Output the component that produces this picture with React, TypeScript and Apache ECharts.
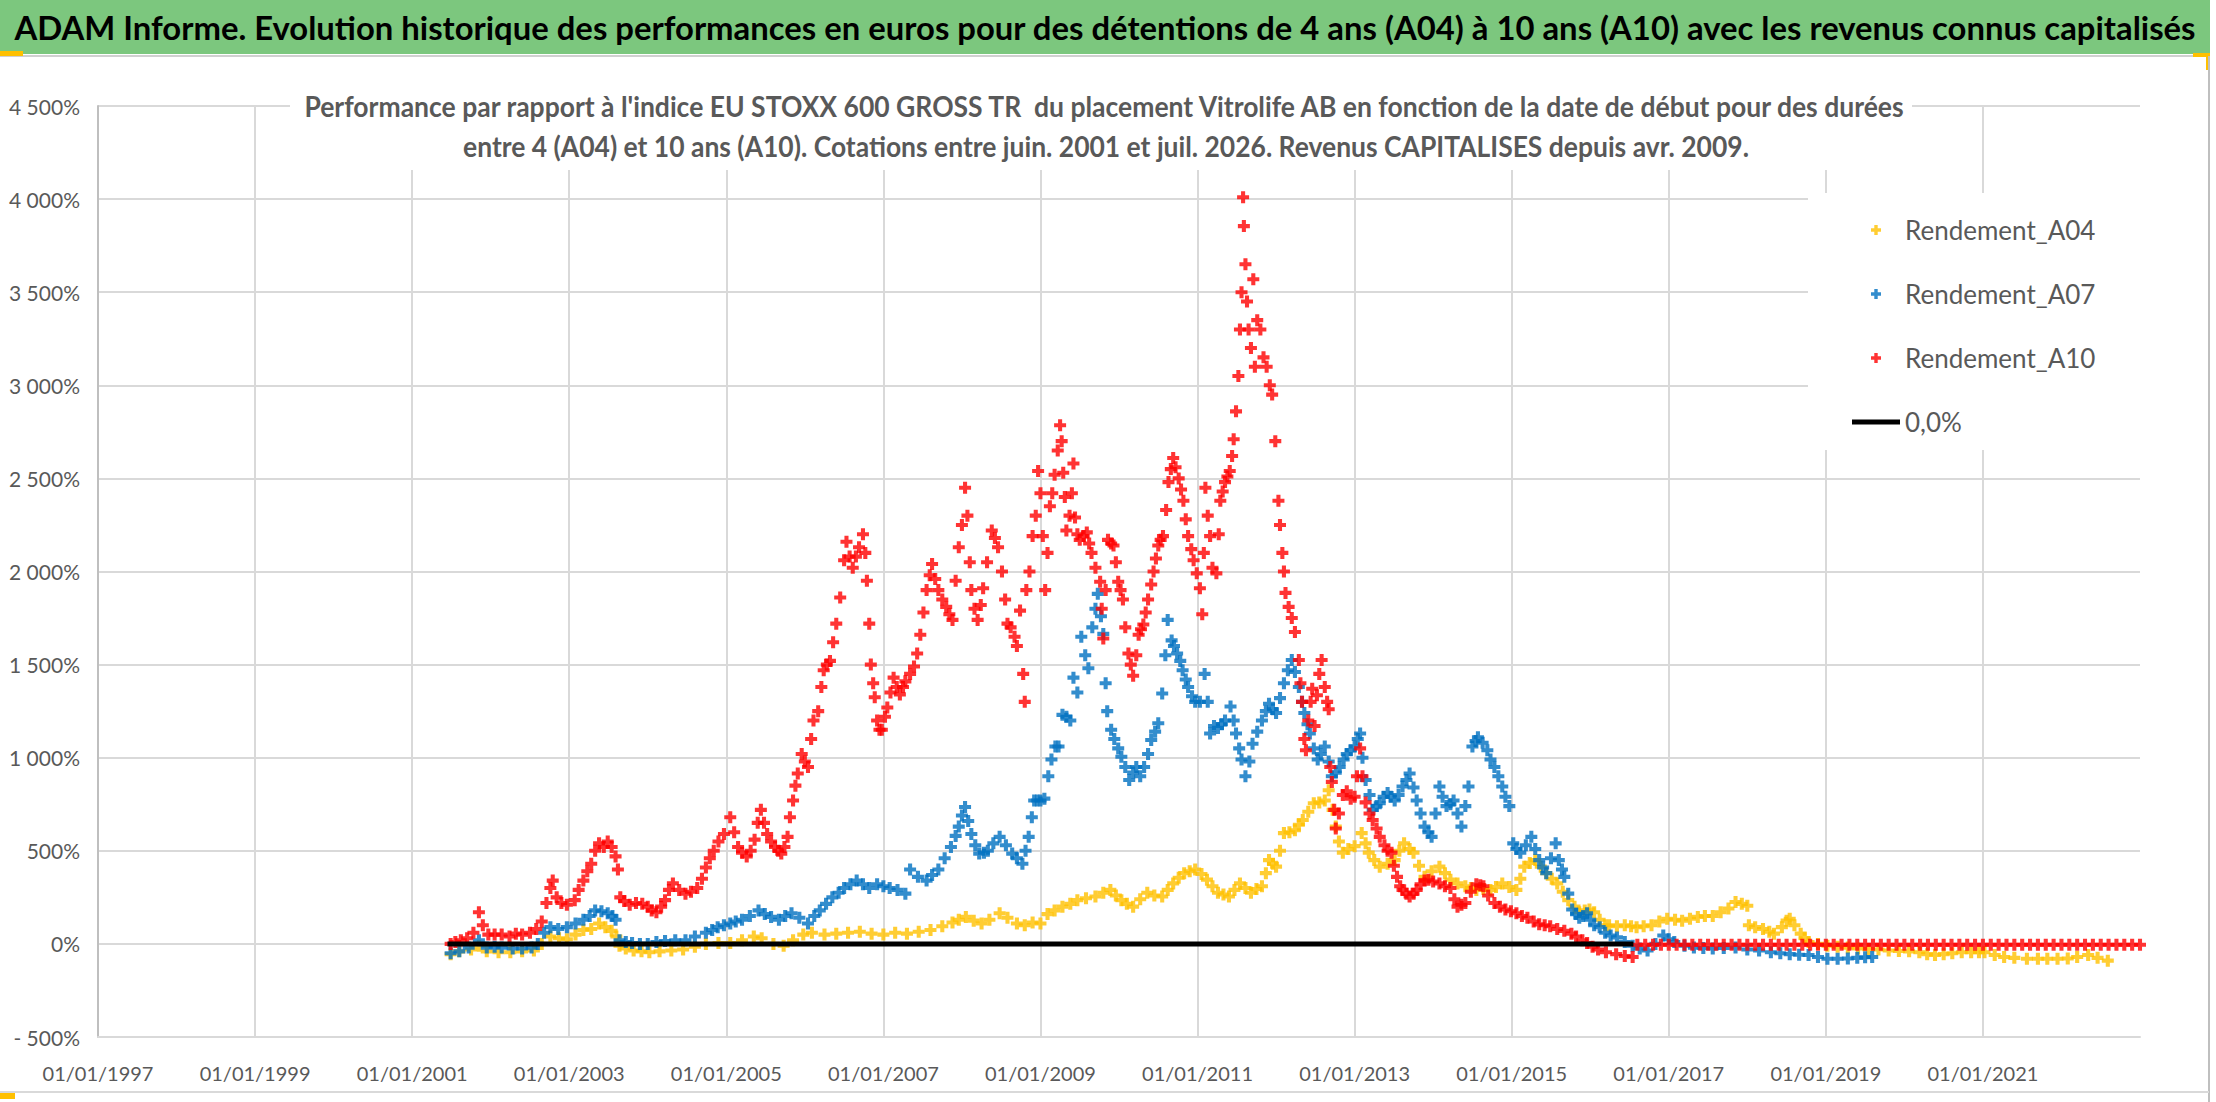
import { useEffect, useRef } from "react";
import * as echarts from "echarts";

// start date (decimal year), performance vs index (%)
const a04Points: [number, number][] = [
  [2001.49, -55], [2001.6, -40], [2001.75, -30], [2001.85, -10], [2001.95, -40], [2002.1, -45], [2002.25, -45],
  [2002.4, -40], [2002.55, -35], [2002.65, 0], [2002.76, 40], [2002.87, 30], [2002.97, 25], [2003.08, 50],
  [2003.18, 75], [2003.28, 80], [2003.38, 110], [2003.46, 90], [2003.54, 70], [2003.6, 40], [2003.64, -10],
  [2003.72, -25], [2003.82, -35], [2003.92, -40], [2004.02, -45], [2004.15, -40], [2004.3, -35], [2004.45, -30],
  [2004.6, -15], [2004.74, 0], [2004.9, 5], [2005.05, 5], [2005.2, 20], [2005.35, 40], [2005.45, 30],
  [2005.6, 0], [2005.73, -10], [2005.85, 20], [2005.98, 50], [2006.09, 60], [2006.25, 50], [2006.4, 55],
  [2006.55, 60], [2006.7, 65], [2006.85, 55], [2007.0, 50], [2007.15, 60], [2007.3, 55], [2007.45, 65],
  [2007.6, 75], [2007.75, 95], [2007.88, 115], [2007.96, 130], [2008.05, 145], [2008.15, 125], [2008.25, 110],
  [2008.35, 130], [2008.48, 165], [2008.58, 140], [2008.7, 110], [2008.8, 100], [2008.9, 115], [2009.0, 110],
  [2009.09, 160], [2009.18, 180], [2009.28, 200], [2009.38, 215], [2009.47, 235], [2009.58, 245], [2009.7, 255],
  [2009.8, 275], [2009.89, 290], [2009.96, 260], [2010.03, 235], [2010.1, 215], [2010.18, 200], [2010.27, 240],
  [2010.36, 275], [2010.45, 260], [2010.55, 255], [2010.62, 290], [2010.69, 325], [2010.76, 355], [2010.83, 380],
  [2010.9, 390], [2010.97, 400], [2011.05, 375], [2011.12, 345], [2011.19, 310], [2011.26, 275], [2011.33, 265],
  [2011.4, 255], [2011.47, 290], [2011.54, 325], [2011.61, 300], [2011.68, 275], [2011.75, 295], [2011.82, 310],
  [2011.87, 380], [2011.91, 450], [2011.96, 430], [2012.0, 415], [2012.05, 500], [2012.1, 595], [2012.17, 600],
  [2012.24, 610], [2012.29, 640], [2012.34, 665], [2012.41, 710], [2012.48, 755], [2012.55, 760], [2012.62, 770],
  [2012.67, 825], [2012.72, 720], [2012.76, 630], [2012.8, 550], [2012.85, 490], [2012.92, 510], [2013.0, 525],
  [2013.09, 595], [2013.14, 540], [2013.18, 490], [2013.25, 450], [2013.32, 415], [2013.42, 430], [2013.51, 450],
  [2013.57, 500], [2013.63, 540], [2013.7, 510], [2013.75, 490], [2013.82, 420], [2013.89, 360], [2013.98, 390],
  [2014.08, 415], [2014.15, 380], [2014.22, 345], [2014.31, 325], [2014.41, 310], [2014.48, 300], [2014.55, 290],
  [2014.64, 295], [2014.73, 290], [2014.8, 305], [2014.88, 325], [2014.97, 305], [2015.06, 290], [2015.11, 350],
  [2015.16, 415], [2015.23, 435], [2015.3, 450], [2015.37, 415], [2015.44, 380], [2015.51, 350], [2015.58, 325],
  [2015.65, 280], [2015.72, 235], [2015.8, 200], [2015.86, 170], [2015.93, 180], [2015.99, 185], [2016.05, 170],
  [2016.12, 130], [2016.19, 100], [2016.24, 100], [2016.34, 95], [2016.44, 100], [2016.52, 95], [2016.59, 90],
  [2016.68, 95], [2016.78, 100], [2016.88, 120], [2016.98, 135], [2017.08, 130], [2017.17, 125], [2017.27, 135],
  [2017.37, 145], [2017.46, 150], [2017.56, 150], [2017.66, 170], [2017.76, 190], [2017.85, 225], [2017.93, 215],
  [2018.0, 205], [2018.02, 100], [2018.1, 90], [2018.2, 80], [2018.28, 65], [2018.34, 55], [2018.44, 90],
  [2018.5, 125], [2018.54, 135], [2018.6, 100], [2018.68, 55], [2018.73, 30], [2018.78, 10], [2018.9, 0],
  [2019.02, -10], [2019.15, -15], [2019.28, -20], [2019.41, -25], [2019.54, -28], [2019.67, -30], [2019.8, -35],
  [2019.93, -38], [2020.06, -40], [2020.19, -45], [2020.29, -55], [2020.39, -60], [2020.5, -55], [2020.61, -50],
  [2020.73, -45], [2020.85, -45], [2020.95, -45], [2021.02, -45], [2021.15, -60], [2021.27, -70], [2021.4, -75],
  [2021.56, -80], [2021.7, -80], [2021.82, -80], [2021.95, -80], [2022.08, -78], [2022.2, -70], [2022.34, -60],
  [2022.46, -75], [2022.59, -90],
];

const a07Points: [number, number][] = [
  [2001.49, -50], [2001.6, -40], [2001.72, -20], [2001.85, 20], [2001.95, -20], [2002.05, -15], [2002.14, -20],
  [2002.28, -25], [2002.4, -25], [2002.52, -20], [2002.6, 0], [2002.68, 60], [2002.76, 90], [2002.86, 80],
  [2002.97, 90], [2003.08, 110], [2003.18, 130], [2003.26, 150], [2003.33, 180], [2003.41, 175], [2003.49, 165],
  [2003.55, 150], [2003.59, 130], [2003.64, 20], [2003.72, 10], [2003.8, 5], [2003.9, 0], [2004.0, 0],
  [2004.11, 10], [2004.22, 15], [2004.35, 20], [2004.48, 20], [2004.6, 40], [2004.74, 60], [2004.82, 75],
  [2004.89, 90], [2004.97, 100], [2005.05, 110], [2005.12, 120], [2005.2, 130], [2005.3, 150], [2005.41, 180],
  [2005.49, 160], [2005.57, 145], [2005.67, 130], [2005.75, 150], [2005.83, 165], [2005.93, 140], [2006.04, 110],
  [2006.12, 150], [2006.19, 180], [2006.27, 215], [2006.35, 250], [2006.43, 275], [2006.5, 300], [2006.58, 320],
  [2006.66, 340], [2006.74, 320], [2006.82, 300], [2006.92, 320], [2007.0, 310], [2007.08, 300], [2007.18, 290],
  [2007.28, 270], [2007.34, 400], [2007.44, 360], [2007.55, 340], [2007.62, 370], [2007.7, 400], [2007.78, 460],
  [2007.86, 520], [2007.92, 580], [2007.96, 630], [2008.0, 690], [2008.04, 735], [2008.08, 660], [2008.12, 590],
  [2008.17, 530], [2008.22, 485], [2008.28, 490], [2008.33, 500], [2008.4, 540], [2008.48, 575], [2008.56, 530],
  [2008.64, 485], [2008.7, 460], [2008.77, 430], [2008.81, 500], [2008.85, 575], [2008.89, 680], [2008.92, 770],
  [2008.96, 770], [2009.0, 770], [2009.05, 780], [2009.1, 900], [2009.14, 990], [2009.19, 1060], [2009.23, 1060],
  [2009.28, 1230], [2009.33, 1220], [2009.38, 1200], [2009.42, 1430], [2009.47, 1350], [2009.52, 1650],
  [2009.57, 1550], [2009.61, 1480], [2009.66, 1700], [2009.7, 1800], [2009.73, 1880], [2009.77, 1760],
  [2009.8, 1665], [2009.83, 1400], [2009.85, 1250], [2009.9, 1150], [2009.94, 1100], [2009.99, 1050],
  [2010.03, 1005], [2010.08, 950], [2010.13, 880], [2010.18, 920], [2010.22, 950], [2010.27, 900], [2010.32, 950],
  [2010.37, 1020], [2010.41, 1095], [2010.46, 1140], [2010.5, 1185], [2010.55, 1345], [2010.59, 1550],
  [2010.62, 1740], [2010.67, 1630], [2010.7, 1600], [2010.74, 1560], [2010.78, 1520], [2010.81, 1470],
  [2010.85, 1420], [2010.88, 1380], [2010.93, 1330], [2010.97, 1300], [2011.03, 1300], [2011.09, 1450],
  [2011.13, 1300], [2011.16, 1130], [2011.21, 1170], [2011.26, 1160], [2011.31, 1180], [2011.35, 1200],
  [2011.42, 1275], [2011.46, 1200], [2011.49, 1130], [2011.53, 1050], [2011.56, 990], [2011.61, 900],
  [2011.66, 980], [2011.7, 1075], [2011.76, 1140], [2011.82, 1200], [2011.87, 1250], [2011.91, 1290],
  [2011.96, 1260], [2012.0, 1240], [2012.05, 1320], [2012.1, 1400], [2012.15, 1470], [2012.2, 1525],
  [2012.24, 1460], [2012.29, 1380], [2012.33, 1300], [2012.36, 1240], [2012.4, 1180], [2012.43, 1130],
  [2012.48, 1050], [2012.53, 990], [2012.57, 1020], [2012.62, 1060], [2012.67, 980], [2012.71, 900],
  [2012.76, 920], [2012.81, 950], [2012.86, 990], [2012.9, 1020], [2012.95, 1040], [2013.0, 1060],
  [2013.04, 1100], [2013.07, 1130], [2013.1, 1000], [2013.14, 880], [2013.19, 800], [2013.23, 720],
  [2013.28, 740], [2013.32, 755], [2013.37, 790], [2013.42, 810], [2013.46, 790], [2013.51, 770], [2013.56, 800],
  [2013.61, 845], [2013.66, 880], [2013.7, 915], [2013.75, 840], [2013.79, 770], [2013.84, 700], [2013.89, 630],
  [2013.94, 600], [2013.98, 575], [2014.03, 700], [2014.08, 845], [2014.12, 790], [2014.17, 740], [2014.22, 750],
  [2014.26, 770], [2014.31, 700], [2014.36, 630], [2014.41, 740], [2014.45, 845], [2014.5, 1060], [2014.54, 1090],
  [2014.57, 1110], [2014.63, 1080], [2014.69, 1040], [2014.73, 990], [2014.78, 950], [2014.83, 900],
  [2014.88, 845], [2014.92, 790], [2014.97, 740], [2015.02, 540], [2015.06, 510], [2015.11, 490], [2015.18, 530],
  [2015.25, 575], [2015.3, 510], [2015.35, 450], [2015.4, 410], [2015.44, 380], [2015.5, 460], [2015.56, 540],
  [2015.6, 450], [2015.64, 400], [2015.67, 360], [2015.72, 270], [2015.77, 185], [2015.82, 160], [2015.86, 140],
  [2015.91, 150], [2015.96, 165], [2016.0, 130], [2016.05, 100], [2016.12, 90], [2016.19, 60], [2016.26, 45],
  [2016.34, 35], [2016.44, 10], [2016.54, -10], [2016.63, -25], [2016.73, -35], [2016.83, 0], [2016.93, 45],
  [2017.0, 25], [2017.07, 10], [2017.2, -10], [2017.32, -20], [2017.44, -22], [2017.56, -25], [2017.7, -22],
  [2017.85, -20], [2018.0, -30], [2018.15, -35], [2018.3, -45], [2018.42, -50], [2018.54, -55], [2018.66, -58],
  [2018.78, -60], [2018.9, -70], [2019.02, -80], [2019.15, -80], [2019.28, -78], [2019.4, -75], [2019.5, -72],
  [2019.59, -70],
];

const a10Points: [number, number][] = [
  [2001.49, 0], [2001.55, 10], [2001.62, 20], [2001.7, 30], [2001.78, 60], [2001.85, 170], [2001.9, 100],
  [2001.97, 50], [2002.05, 50], [2002.14, 50], [2002.24, 40], [2002.32, 55], [2002.4, 50], [2002.5, 60],
  [2002.58, 80], [2002.65, 120], [2002.71, 220], [2002.76, 300], [2002.79, 340], [2002.84, 250], [2002.9, 220],
  [2002.97, 210], [2003.07, 235], [2003.12, 290], [2003.18, 340], [2003.23, 390], [2003.28, 430], [2003.33, 500],
  [2003.38, 540], [2003.44, 520], [2003.49, 550], [2003.54, 520], [2003.59, 470], [2003.62, 400], [2003.65, 250],
  [2003.7, 230], [2003.77, 210], [2003.85, 220], [2003.93, 215], [2004.0, 200], [2004.05, 180], [2004.11, 170],
  [2004.17, 200], [2004.22, 235], [2004.27, 290], [2004.32, 325], [2004.4, 290], [2004.48, 270], [2004.55, 280],
  [2004.63, 300], [2004.69, 350], [2004.74, 410], [2004.79, 460], [2004.84, 500], [2004.9, 550], [2004.97, 590],
  [2005.05, 680], [2005.1, 600], [2005.15, 520], [2005.2, 490], [2005.26, 470], [2005.31, 500], [2005.36, 560],
  [2005.4, 650], [2005.44, 720], [2005.48, 650], [2005.52, 590], [2005.57, 550], [2005.62, 520], [2005.66, 500],
  [2005.7, 485], [2005.74, 520], [2005.78, 575], [2005.81, 680], [2005.85, 770], [2005.88, 850], [2005.91, 915],
  [2005.96, 1020], [2006.0, 980], [2006.04, 950], [2006.08, 1100], [2006.11, 1200], [2006.17, 1250],
  [2006.21, 1380], [2006.24, 1470], [2006.28, 1500], [2006.32, 1520], [2006.36, 1620], [2006.4, 1720],
  [2006.45, 1860], [2006.5, 2060], [2006.53, 2160], [2006.57, 2080], [2006.61, 2020], [2006.65, 2080],
  [2006.69, 2130], [2006.74, 2200], [2006.77, 2100], [2006.79, 1950], [2006.82, 1720], [2006.84, 1500],
  [2006.87, 1400], [2006.89, 1325], [2006.92, 1200], [2006.95, 1150], [2006.98, 1150], [2007.02, 1220],
  [2007.05, 1270], [2007.09, 1350], [2007.13, 1430], [2007.17, 1380], [2007.21, 1340], [2007.25, 1380],
  [2007.28, 1410], [2007.34, 1450], [2007.39, 1490], [2007.43, 1560], [2007.47, 1660], [2007.51, 1780],
  [2007.55, 1900], [2007.59, 1980], [2007.62, 2040], [2007.66, 1960], [2007.7, 1900], [2007.75, 1850],
  [2007.8, 1810], [2007.84, 1770], [2007.88, 1740], [2007.92, 1950], [2007.96, 2130], [2008.0, 2250],
  [2008.04, 2450], [2008.07, 2300], [2008.1, 2050], [2008.12, 1900], [2008.16, 1800], [2008.2, 1740],
  [2008.24, 1820], [2008.27, 1910], [2008.32, 2050], [2008.38, 2220], [2008.42, 2180], [2008.46, 2130],
  [2008.51, 2000], [2008.55, 1850], [2008.58, 1720], [2008.62, 1700], [2008.67, 1650], [2008.7, 1600],
  [2008.74, 1790], [2008.78, 1450], [2008.8, 1300], [2008.82, 1900], [2008.86, 2000], [2008.9, 2190],
  [2008.94, 2300], [2008.97, 2540], [2009.0, 2420], [2009.03, 2190], [2009.06, 1900], [2009.09, 2100],
  [2009.12, 2350], [2009.15, 2420], [2009.18, 2520], [2009.22, 2650], [2009.25, 2785], [2009.27, 2700],
  [2009.29, 2530], [2009.31, 2400], [2009.33, 2220], [2009.37, 2300], [2009.4, 2420], [2009.42, 2580],
  [2009.44, 2290], [2009.47, 2200], [2009.5, 2170], [2009.55, 2190], [2009.59, 2210], [2009.62, 2150],
  [2009.65, 2100], [2009.7, 2020], [2009.76, 1945], [2009.78, 1800], [2009.8, 1640], [2009.83, 1900],
  [2009.86, 2170], [2009.9, 2150], [2009.93, 2140], [2009.96, 2050], [2009.99, 1945], [2010.02, 1900],
  [2010.05, 1850], [2010.08, 1700], [2010.12, 1560], [2010.15, 1500], [2010.18, 1440], [2010.22, 1550],
  [2010.25, 1660], [2010.28, 1690], [2010.31, 1715], [2010.34, 1780], [2010.37, 1850], [2010.41, 1930],
  [2010.44, 2000], [2010.47, 2070], [2010.5, 2140], [2010.53, 2170], [2010.56, 2190], [2010.6, 2330],
  [2010.63, 2480], [2010.66, 2550], [2010.69, 2610], [2010.72, 2560], [2010.76, 2500], [2010.79, 2440],
  [2010.82, 2380], [2010.85, 2280], [2010.88, 2190], [2010.92, 2120], [2010.95, 2060], [2010.99, 1990],
  [2011.03, 1910], [2011.06, 1770], [2011.08, 2100], [2011.1, 2450], [2011.13, 2300], [2011.16, 2190],
  [2011.19, 2020], [2011.24, 1990], [2011.27, 2200], [2011.29, 2380], [2011.32, 2430], [2011.35, 2480],
  [2011.38, 2510], [2011.41, 2540], [2011.44, 2620], [2011.46, 2710], [2011.49, 2860], [2011.52, 3050],
  [2011.54, 3300], [2011.56, 3500], [2011.58, 4010], [2011.59, 3855], [2011.61, 3650], [2011.63, 3450],
  [2011.65, 3300], [2011.68, 3200], [2011.71, 3570], [2011.73, 3100], [2011.76, 3350], [2011.8, 3300],
  [2011.84, 3150], [2011.88, 3100], [2011.92, 3000], [2011.95, 2950], [2011.99, 2700], [2012.03, 2380],
  [2012.05, 2250], [2012.08, 2100], [2012.1, 2000], [2012.12, 1885], [2012.16, 1810], [2012.2, 1750],
  [2012.24, 1675], [2012.29, 1525], [2012.31, 1400], [2012.33, 1300], [2012.36, 1100], [2012.38, 1040],
  [2012.41, 1200], [2012.44, 1300], [2012.46, 1370], [2012.49, 1170], [2012.52, 1335], [2012.55, 1450],
  [2012.58, 1525], [2012.62, 1380], [2012.65, 1300], [2012.67, 1260], [2012.69, 950], [2012.71, 870],
  [2012.74, 720], [2012.76, 620], [2012.8, 700], [2012.85, 800], [2012.9, 820], [2012.95, 780], [2013.0, 790],
  [2013.03, 900], [2013.07, 1050], [2013.1, 900], [2013.14, 760], [2013.19, 700], [2013.23, 665], [2013.28, 620],
  [2013.32, 575], [2013.38, 530], [2013.42, 500], [2013.47, 490], [2013.5, 420], [2013.54, 360], [2013.58, 310],
  [2013.61, 290], [2013.66, 270], [2013.7, 255], [2013.75, 270], [2013.79, 290], [2013.84, 320], [2013.89, 340],
  [2013.94, 345], [2014.0, 335], [2014.08, 325], [2014.15, 310], [2014.22, 300], [2014.27, 240], [2014.31, 200],
  [2014.36, 210], [2014.41, 220], [2014.48, 280], [2014.55, 320], [2014.6, 315], [2014.64, 310], [2014.7, 260],
  [2014.78, 220], [2014.85, 200], [2014.92, 185], [2014.99, 175], [2015.06, 165], [2015.13, 150], [2015.2, 140],
  [2015.28, 120], [2015.35, 105], [2015.42, 100], [2015.49, 95], [2015.58, 80], [2015.67, 70], [2015.76, 55],
  [2015.82, 40], [2015.9, 20], [2015.96, 5], [2016.03, -15], [2016.1, -30], [2016.2, -45], [2016.33, -55],
  [2016.44, -65], [2016.54, -70],
  [2016.6, -5], [2016.7, -5], [2016.8, -5], [2016.9, -5], [2017.0, -5], [2017.1, -5], [2017.2, -5], [2017.3, -5],
  [2017.4, -5], [2017.5, -5], [2017.6, -5], [2017.7, -5], [2017.8, -5], [2017.9, -5], [2018.0, -5], [2018.1, -5],
  [2018.2, -5], [2018.3, -5], [2018.4, -5], [2018.5, -5], [2018.6, -5], [2018.7, -5], [2018.8, -5], [2018.9, -5],
  [2019.0, -5], [2019.1, -5], [2019.2, -5], [2019.3, -5], [2019.4, -5], [2019.5, -5], [2019.6, -5], [2019.7, -5],
  [2019.8, -5], [2019.9, -5], [2020.0, -5], [2020.1, -5], [2020.2, -5], [2020.3, -5], [2020.4, -5], [2020.5, -5],
  [2020.6, -5], [2020.7, -5], [2020.8, -5], [2020.9, -5], [2021.0, -5], [2021.1, -5], [2021.2, -5], [2021.3, -5],
  [2021.4, -5], [2021.5, -5], [2021.6, -5], [2021.7, -5], [2021.8, -5], [2021.9, -5], [2022.0, -5], [2022.1, -5],
  [2022.2, -5], [2022.3, -5], [2022.4, -5], [2022.5, -5], [2022.6, -5], [2022.7, -5], [2022.8, -5], [2022.9, -5],
  [2023.0, -5],
];

const zeroLine: [number, number][] = [[2001.45, 0], [2016.55, 0]];

const seriesNames = ["Rendement_A04", "Rendement_A07", "Rendement_A10", "0,0%"];
const seriesColors = ["#ffc000", "#0070c0", "#ff0000", "#000000"];

const X0 = 1997; // first tick: 01/01/1997
const xSpan = 26; // up to 01/01/2023
const yMin = -500;
const yMax = 4500;

const TITLE =
  "ADAM Informe. Evolution historique des performances en euros pour des détentions de 4 ans (A04) à 10 ans (A10) avec les revenus connus capitalisés";
const SUB1 =
  "Performance par rapport à l'indice EU STOXX 600 GROSS TR  du placement Vitrolife AB en fonction de la date de début pour des durées";
const SUB2 =
  "entre 4 (A04) et 10 ans (A10). Cotations entre juin. 2001 et juil. 2026. Revenus CAPITALISES depuis avr. 2009.";

const PLUS = "path://M3.3,0H6.7V3.3H10V6.7H6.7V10H3.3V6.7H0V3.3H3.3Z";

function fitScale(text: string, font: string, target: number) {
  const ctx = document.createElement("canvas").getContext("2d");
  if (!ctx) return 1;
  ctx.font = font;
  const w = ctx.measureText(text).width;
  return w > 0 ? target / w : 1;
}

function pct(v: number) {
  const a = Math.abs(v);
  const s = a >= 1000 ? `${Math.floor(a / 1000)} ${String(a % 1000).padStart(3, "0")}` : `${a}`;
  return (v < 0 ? "- " : "") + s + "%";
}

const shift = (pts: [number, number][]) => pts.map(([x, y]) => [x - X0, y]);

export default function App() {
  const ref = useRef<HTMLDivElement>(null);

  useEffect(() => {
    if (!ref.current) return;
    document.body.style.margin = "0";
    const chart = echarts.init(ref.current, undefined, { renderer: "svg" });

    const titleFont = "bold 33px Lato";
    const subFont = "bold 28px Lato";
    const sTitle = fitScale(TITLE, titleFont, 2183);
    const sSub1 = fitScale(SUB1, subFont, 1604);
    const sSub2 = fitScale(SUB2, subFont, 1286);

    const scatter = (i: number, pts: [number, number][]) => ({
      name: seriesNames[i],
      type: "scatter",
      data: shift(pts),
      symbol: PLUS,
      symbolSize: 12,
      itemStyle: { color: seriesColors[i] },
      emphasis: { disabled: true },
    });

    chart.setOption({
      animation: false,
      backgroundColor: "#ffffff",
      grid: { left: 98, right: 76, top: 106, bottom: 65 },
      xAxis: {
        type: "value",
        min: 0,
        max: xSpan,
        interval: 2,
        axisLine: { show: true, onZero: false, lineStyle: { color: "#d9d9d9", width: 2 } },
        axisTick: { show: false },
        axisLabel: {
          showMaxLabel: false,
          margin: 26,
          color: "#595959",
          fontFamily: "Lato",
          fontSize: 20,
          formatter: (v: number) => `01/01/${X0 + v}`,
        },
        splitLine: { show: true, showMaxLine: false, lineStyle: { color: "#d9d9d9", width: 2 } },
      },
      yAxis: {
        type: "value",
        min: yMin,
        max: yMax,
        interval: 500,
        axisLine: { show: true, lineStyle: { color: "#bfbfbf", width: 2 } },
        axisTick: { show: false },
        axisLabel: { margin: 18, color: "#595959", fontFamily: "Lato", fontSize: 21, formatter: pct },
        splitLine: { show: true, lineStyle: { color: "#d9d9d9", width: 2 } },
      },
      legend: {
        orient: "vertical",
        left: 1847,
        top: 210,
        itemWidth: 48,
        itemHeight: 10,
        itemGap: 34,
        symbolKeepAspect: true,
        selectedMode: false,
        textStyle: { color: "#595959", fontFamily: "Lato", fontSize: 26, lineHeight: 30 },
        data: [
          { name: seriesNames[0], icon: PLUS },
          { name: seriesNames[1], icon: PLUS },
          { name: seriesNames[2], icon: PLUS },
          { name: seriesNames[3], icon: "path://M0,0H48V5H0Z" },
        ],
      },
      graphic: [
        { type: "rect", z: 0, shape: { x: 0, y: 0, width: 2210, height: 54 }, style: { fill: "#7cc77e" } },
        { type: "line", z: 0, shape: { x1: 0, y1: 56, x2: 2210, y2: 56 }, style: { stroke: "#d0d0d0", lineWidth: 2 } },
        { type: "rect", z: 0, shape: { x: 0, y: 51, width: 23, height: 5 }, style: { fill: "#ffc000" } },
        { type: "rect", z: 0, shape: { x: 2193, y: 53, width: 17, height: 4 }, style: { fill: "#ffc000" } },
        { type: "rect", z: 0, shape: { x: 2206, y: 53, width: 4, height: 17 }, style: { fill: "#ffc000" } },
        { type: "line", z: 0, shape: { x1: 2209, y1: 56, x2: 2209, y2: 1102 }, style: { stroke: "#bfbfbf", lineWidth: 2 } },
        { type: "line", z: 0, shape: { x1: 0, y1: 1092, x2: 2209, y2: 1092 }, style: { stroke: "#d9d9d9", lineWidth: 2 } },
        { type: "rect", z: 0, shape: { x: 0, y: 1093, width: 15, height: 6 }, style: { fill: "#ffc000" } },
        {
          type: "text",
          z: 10,
          x: 1105,
          y: 27,
          scaleX: sTitle,
          style: { text: TITLE, x: 0, y: 0, align: "center", verticalAlign: "middle", font: titleFont, fill: "#000000" },
        },
        { type: "rect", z: 1, shape: { x: 290, y: 84, width: 1622, height: 86 }, style: { fill: "#ffffff" } },
        {
          type: "text",
          z: 10,
          x: 1104,
          y: 106,
          scaleX: sSub1,
          style: { text: SUB1, x: 0, y: 0, align: "center", verticalAlign: "middle", font: subFont, fill: "#595959" },
        },
        {
          type: "text",
          z: 10,
          x: 1106,
          y: 146,
          scaleX: sSub2,
          style: { text: SUB2, x: 0, y: 0, align: "center", verticalAlign: "middle", font: subFont, fill: "#595959" },
        },
        { type: "rect", z: 1, shape: { x: 1808, y: 193, width: 332, height: 257 }, style: { fill: "#ffffff" } },
      ],
      series: [
        scatter(0, a04Points),
        scatter(1, a07Points),
        scatter(2, a10Points),
        {
          name: seriesNames[3],
          type: "line",
          data: shift(zeroLine),
          symbol: "none",
          lineStyle: { color: seriesColors[3], width: 5 },
          itemStyle: { color: seriesColors[3] },
          emphasis: { disabled: true },
        },
      ],
    });

    return () => chart.dispose();
  }, []);

  return <div ref={ref} style={{ position: "fixed", left: 0, top: 0, width: 2216, height: 1102 }} />;
}
